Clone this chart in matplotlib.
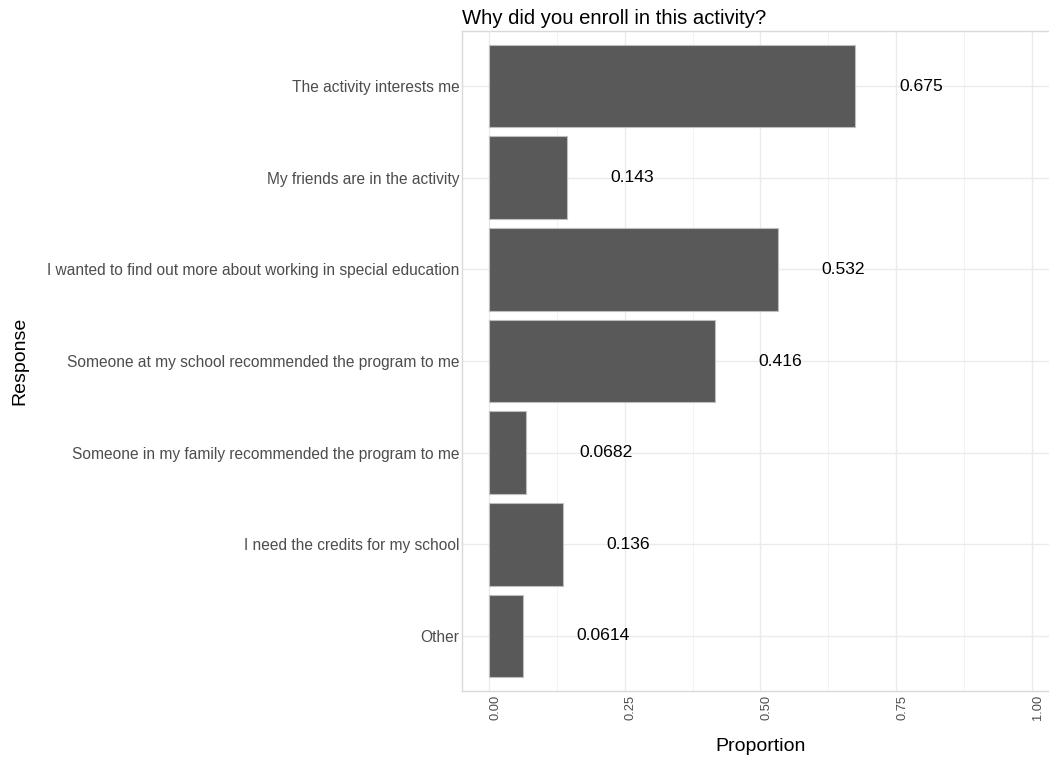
import matplotlib
matplotlib.use('Agg')
import matplotlib.pyplot as plt
from matplotlib.transforms import ScaledTranslation
from matplotlib.ticker import MultipleLocator

plt.rcParams['font.family'] = ['Liberation Sans', 'DejaVu Sans']

# data (top to bottom as shown)
responses = ['The activity interests me',
             'My friends are in the activity',
             'I wanted to find out more about working in special education',
             'Someone at my school recommended the program to me',
             'Someone in my family recommended the program to me',
             'I need the credits for my school',
             'Other']
proportions = [0.675, 0.143, 0.532, 0.416, 0.0682, 0.136, 0.0614]
labels = ['0.675', '0.143', '0.532', '0.416', '0.0682', '0.136', '0.0614']

fig = plt.figure(figsize=(10.49, 7.6), dpi=100)
ax = fig.add_axes([0.4406, 0.0908, 0.5687, 0.8684])

ypos = list(range(len(responses)))[::-1]
ax.barh(ypos, proportions, height=0.9, color='#595959', edgecolor='#BEBEBE',
        linewidth=0.8, zorder=2)

ax.set_xlim(-0.05, 1.05)
ax.set_ylim(-0.6, len(responses) - 0.4)
ax.set_yticks(ypos)
ax.set_yticklabels(responses)
ax.xaxis.set_minor_locator(MultipleLocator(0.125))
ax.set_xticks([0, 0.25, 0.5, 0.75, 1.0])
ax.set_xticklabels(['0.00', '0.25', '0.50', '0.75', '1.00'], rotation=90,
                   va='top', ha='center')

ax.grid(which='major', color='#EBEBEB', linewidth=1.0, zorder=0)
ax.grid(which='minor', axis='x', color='#F0F0F0', linewidth=0.6, zorder=0)
ax.set_axisbelow(True)
ax.tick_params(which='both', length=0)
ax.tick_params(axis='y', labelsize=11.2, labelcolor='#4D4D4D', pad=2)
ax.tick_params(axis='x', labelsize=9.3, labelcolor='#4D4D4D', pad=3)
for s in ax.spines.values():
    s.set_color('#D9D9D9')
    s.set_linewidth(1.0)

ax.set_xlabel('Proportion', fontsize=14, labelpad=13)
ax.set_ylabel('Response', fontsize=14)
ax.yaxis.set_label_coords(-0.728, 0.5)
ax.set_title('Why did you enroll in this activity?', fontsize=14.6, loc='left', pad=5)

# shift x tick labels slightly right like the original
for t in ax.get_xticklabels():
    t.set_transform(t.get_transform() + ScaledTranslation(6 / 100, 0, fig.dpi_scale_trans))

texts = []
for y, v, lab in zip(ypos, proportions, labels):
    texts.append(ax.text(v, y, lab, fontsize=12.6, ha='left', va='center', color='black'))

# push each label right by its own width
fig.canvas.draw()
for t in texts:
    w = t.get_window_extent().width
    t.set_transform(ax.transData + ScaledTranslation(w / fig.dpi, 0, fig.dpi_scale_trans))

fig.savefig('out.png', dpi=100)
